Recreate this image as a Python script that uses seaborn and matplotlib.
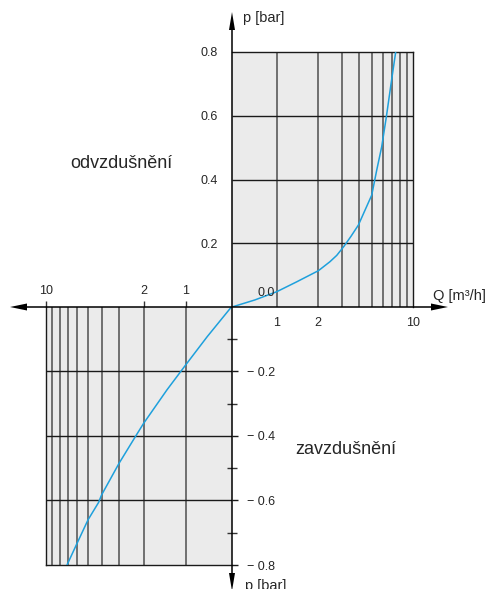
import numpy as np
import pandas as pd
import matplotlib
matplotlib.use('Agg')
import matplotlib.pyplot as plt
from matplotlib.ticker import NullLocator, FixedLocator
import seaborn as sns

# odvzdušnění (venting) curve, upper right quadrant
q_vent = [0.47, 0.69, 1.0, 1.4, 2.02, 2.45, 2.75, 3.1, 3.5, 3.96, 4.96, 5.4, 5.87, 6.35, 6.88, 7.43]
p_vent = [0.0, 0.022, 0.048, 0.079, 0.114, 0.142, 0.162, 0.19, 0.222, 0.257, 0.351, 0.43, 0.503, 0.597, 0.702, 0.8]

# zavzdušnění (aeration) curve, lower left quadrant
q_aer = [0.47, 0.70, 1.0, 1.36, 2.0, 2.29, 3.0, 4.0, 4.2, 5.0, 6.07, 7.07]
p_aer = [0.0, -0.092, -0.18, -0.257, -0.361, -0.402, -0.485, -0.583, -0.606, -0.66, -0.738, -0.8]

q_grid = [1, 2, 3, 4, 5, 6, 7, 8, 9]
q_ticks = [1, 2, 10]
p_major_up = [0.2, 0.4, 0.6, 0.8]
p_minor_up = [0.1, 0.3, 0.5, 0.7]
p_major_dn = [-0.2, -0.4, -0.6, -0.8]
p_minor_dn = [-0.1, -0.3, -0.5, -0.7]

W, H = 491, 589
CURVE = '#1ea0dc'
PANEL = '#ebebeb'
GRID_V = '#5a5a5a'

sns.set_style('white')
plt.rcParams['font.family'] = ['Liberation Sans', 'DejaVu Sans']

fig = plt.figure(figsize=(W / 100, H / 100), dpi=100)

def frame(x0, y0, x1, y1):
    # pixel box (top-left origin) -> figure fraction
    return [x0 / W, 1 - y1 / H, (x1 - x0) / W, (y1 - y0) / H]

# upper right panel
ax1 = fig.add_axes(frame(232, 52, 413.3, 307))
ax1.set_facecolor(PANEL)
ax1.set_xscale('log')
ax1.set_xlim(0.47, 10)
ax1.set_ylim(0, 0.8)
ax1.vlines(q_grid, 0, 0.8, color=GRID_V, lw=1.2, zorder=1)
ax1.hlines(p_major_up[:-1], 0.47, 10, color='#1a1a1a', lw=1.0, zorder=1)
df_vent = pd.DataFrame({'Q': q_vent, 'p': p_vent})
sns.lineplot(data=df_vent, x='Q', y='p', sort=False, color=CURVE, lw=1.1, ax=ax1, zorder=3)
ax1.set_xlabel('')
ax1.set_ylabel('')
ax1.xaxis.set_major_locator(FixedLocator(q_ticks))
ax1.xaxis.set_minor_locator(NullLocator())
ax1.set_xticklabels(['1', '2', '10'])
ax1.set_yticks(p_major_up)
ax1.set_yticklabels(['0.2', '0.4', '0.6', '0.8'])
ax1.set_yticks(p_minor_up, minor=True)
ax1.tick_params(axis='x', which='major', direction='out', length=4.5, width=1, color='#333', labelsize=9, pad=3)
ax1.tick_params(axis='y', which='major', direction='out', length=4, width=1, color='#1a1a1a', labelsize=9, pad=6)
ax1.tick_params(axis='y', which='minor', direction='inout', length=7, width=1, color='#333')
for s in ['left', 'bottom']:
    ax1.spines[s].set_visible(False)
for s in ['top', 'right']:
    ax1.spines[s].set_color('#1a1a1a')
    ax1.spines[s].set_linewidth(1.0)

# lower left panel
ax2 = fig.add_axes(frame(46, 307, 232, 565))
ax2.set_facecolor(PANEL)
ax2.set_xscale('log')
ax2.set_xlim(10, 0.465)
ax2.set_ylim(-0.8, 0)
ax2.vlines(q_grid, -0.8, 0, color=GRID_V, lw=1.2, zorder=1)
ax2.hlines(p_major_dn[:-1], 0.465, 10, color='#1a1a1a', lw=1.0, zorder=1)
df_aer = pd.DataFrame({'Q': q_aer, 'p': p_aer})
sns.lineplot(data=df_aer, x='Q', y='p', sort=False, color=CURVE, lw=1.1, ax=ax2, zorder=3)
ax2.set_xlabel('')
ax2.set_ylabel('')
ax2.xaxis.tick_top()
ax2.xaxis.set_major_locator(FixedLocator(q_ticks))
ax2.xaxis.set_minor_locator(NullLocator())
ax2.set_xticklabels(['1', '2', '10'])
ax2.yaxis.tick_right()
ax2.set_yticks(p_major_dn)
ax2.set_yticklabels(['\u2212 0.2', '\u2212 0.4', '\u2212 0.6', '\u2212 0.8'])
ax2.set_yticks(p_minor_dn, minor=True)
ax2.tick_params(axis='x', which='major', direction='out', length=4.5, width=1, color='#333', labelsize=9, pad=3)
ax2.tick_params(axis='y', which='major', direction='out', length=4, width=1, color='#1a1a1a', labelsize=9, pad=7)
ax2.tick_params(axis='y', which='minor', direction='inout', length=7, width=1, color='#333')
for s in ['top', 'right']:
    ax2.spines[s].set_visible(False)
for s in ['left', 'bottom']:
    ax2.spines[s].set_color('#1a1a1a')
    ax2.spines[s].set_linewidth(1.0)

# overlay for axis arrows and labels, pixel coordinates
ov = fig.add_axes([0, 0, 1, 1], zorder=10)
ov.set_xlim(0, W)
ov.set_ylim(H, 0)
ov.axis('off')
ov.patch.set_visible(False)

ov.plot([20, 440], [307, 307], color='black', lw=1.1)
ov.plot([232, 232], [22, 580], color='black', lw=1.1)
arrow = dict(color='black', lw=0)
ov.fill([10, 27, 27], [307, 303.5, 310.5], **arrow)
ov.fill([448, 431, 431], [307, 303.5, 310.5], **arrow)
ov.fill([232, 229, 235], [12, 30, 30], **arrow)
ov.fill([232, 229, 235], [591, 573, 573], **arrow)

ov.text(243, 18, 'p [bar]', fontsize=10.5, va='center', ha='left')
ov.text(245, 586, 'p [bar]', fontsize=10.5, va='center', ha='left')
ov.text(433, 296, 'Q [m\u00b3/h]', fontsize=10.5, va='center', ha='left')
ov.text(266, 293, '0.0', fontsize=9, va='center', ha='center')
ov.text(70, 163, 'odvzdušnění', fontsize=13, va='center', ha='left')
ov.text(295, 450, 'zavzdušnění', fontsize=13, va='center', ha='left')

fig.savefig('out.png', dpi=100, facecolor='white')
